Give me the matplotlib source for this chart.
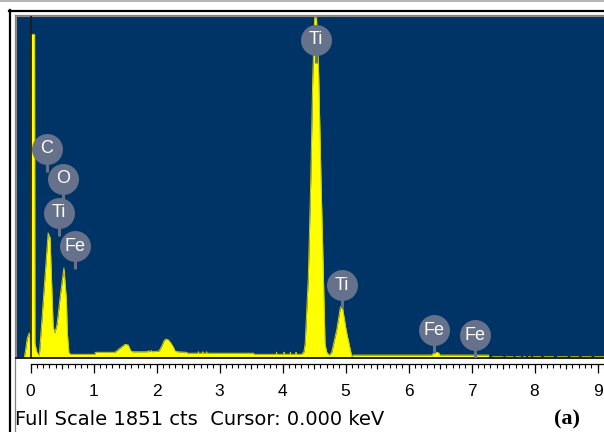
import numpy as np
import matplotlib
matplotlib.use('Agg')
import matplotlib.pyplot as plt

# spectrum (keV, counts)
energy = [-0.23, -0.10, -0.08, -0.05, -0.02, 0.00, 0.01, 0.065, 0.07, 0.10, 0.14,
          0.28, 0.31, 0.36, 0.385, 0.42, 0.47, 0.53, 0.57, 0.585, 0.61, 0.64,
          1.02, 1.03, 1.34, 1.42, 1.50, 1.55, 1.59, 1.62, 1.86, 1.87, 1.88, 1.92, 1.93,
          2.04, 2.08, 2.12, 2.15, 2.19, 2.23, 2.27, 2.29, 2.33, 2.48, 2.49,
          2.66, 2.665, 2.67, 2.73, 2.735, 2.74, 2.79, 2.795, 2.80, 3.54, 3.55,
          3.90, 3.905, 3.91, 4.02, 4.025, 4.03, 4.12, 4.125, 4.13, 4.21, 4.215, 4.22,
          4.30, 4.34, 4.36, 4.41, 4.45, 4.48, 4.51, 4.54, 4.575, 4.61, 4.65, 4.675, 4.70,
          4.74, 4.78, 4.86, 4.92, 4.95, 5.01, 5.10, 5.12,
          6.37, 6.40, 6.44, 6.48, 6.50, 7.27, 7.28,
          7.33, 7.335, 7.50, 7.505, 7.54, 7.545, 7.66, 7.665, 7.70, 7.705, 7.78, 7.785,
          7.82, 7.825, 7.86, 7.865, 7.90, 7.905, 7.94, 7.945, 7.98, 7.985, 8.10, 8.105,
          8.15, 8.155, 8.30, 8.305, 8.36, 8.365, 8.52, 8.525, 8.57, 8.575, 8.70, 8.705,
          8.75, 8.755, 8.90, 8.905, 8.95, 8.955, 9.11]
counts = [0, 0, 40, 110, 136, 70, 1760, 1760, 80, 33, 12,
          680, 655, 170, 136, 180, 330, 490, 316, 136, 27, 20,
          20, 31, 31, 53, 74, 71, 40, 34, 34, 40, 34, 40, 34,
          38, 62, 94, 103, 98, 80, 58, 40, 34, 31, 26,
          26, 34, 26, 26, 34, 26, 26, 34, 26, 26, 20,
          20, 31, 20, 20, 31, 20, 20, 31, 20, 20, 31, 20,
          20, 33, 80, 442, 986, 1530, 1851, 1851, 1530, 986, 442, 80, 33,
          15, 30, 152, 279, 279, 152, 7, 16,
          16, 28, 31, 28, 16, 16, 0,
          0, 7, 7, 0, 0, 7, 7, 0, 0, 7, 7, 0,
          0, 7, 7, 0, 0, 7, 7, 0, 0, 7, 7, 0,
          0, 7, 7, 0, 0, 7, 7, 0, 0, 7, 7, 0,
          0, 7, 7, 0, 0, 7, 7]

# peak markers
label_text = ['C', 'O', 'Ti', 'Fe', 'Ti', 'Ti', 'Fe', 'Fe']
label_kev = [0.26, 0.516, 0.452, 0.706, 4.532, 4.937, 6.405, 7.063]
label_cts = [1137, 974, 789, 609, 1730, 397, 152, 125]

ticks = list(range(10))
full_scale = 1851

W, H = 604, 432
blue = '#003366'
yellow = '#ffff00'
bubble = '#66718b'


def frac(x0, y0, x1, y1):
    return [x0 / W, 1 - y1 / H, (x1 - x0) / W, (y1 - y0) / H]


fig = plt.figure(figsize=(6.04, 4.32), dpi=100)
fig.patch.set_facecolor('white')

# frame / text layer in pixel coordinates
bg = fig.add_axes([0, 0, 1, 1])
bg.set_xlim(0, W)
bg.set_ylim(H, 0)
bg.axis('off')
bg.plot([0, W], [0.5, 0.5], color='#a8a8a8', lw=1.2)
bg.plot([9, W], [11, 11], color='black', lw=1.6)
bg.plot([10, 10], [10, H], color='black', lw=1.6)
bg.plot([14.5, W], [14.5, 14.5], color='#808080', lw=0.9)
bg.plot([14.5, 14.5], [14.5, H], color='#808080', lw=0.9)

xlo = (16 - 30.5) / 63
xhi = (604 - 30.5) / 63

ax = fig.add_axes(frac(16, 16, 604, 358))
ax.set_facecolor(blue)
ax.set_xlim(xlo, xhi)
ax.set_ylim(0, 1860)
ax.fill_between(energy, counts, 0, color=yellow, lw=0, zorder=2)
ax.plot(energy, counts, color='#caca10', lw=0.7, zorder=2)
ax.axvline(0, color='#1c1c1c', lw=1.2, zorder=3)

ax.vlines(label_kev, np.array(label_cts) - 125, label_cts, color=bubble, lw=2.2, zorder=4)
ax.scatter(label_kev, label_cts, s=497, color=bubble, linewidths=0, zorder=5)
for t, k, c in zip(label_text, label_kev, label_cts):
    ax.text(k, c, t, color='white', ha='center', va='center', fontsize=13,
            family='Liberation Sans', zorder=6)

ax.set_xticks([])
ax.set_yticks([])
ax.spines['right'].set_visible(False)
ax.spines['top'].set_color('#8a8a8a')
ax.spines['left'].set_color('#8a8a8a')
ax.spines['bottom'].set_color('#202020')
ax.spines['bottom'].set_linewidth(1.4)

# energy ruler under the plot
rx = fig.add_axes(frac(16, 358, 604, 432))
rx.set_xlim(xlo, xhi)
rx.set_ylim(74, 0)
rx.axis('off')
rx.plot([0, xhi], [5.5, 5.5], color='black', lw=0.9)
minor = np.arange(0, 9.15, 0.1)
rx.vlines(minor, 5.5, 9.5, color='black', lw=0.8)
rx.vlines(np.arange(0.5, 9.15, 1.0), 5.5, 11, color='black', lw=0.8)
rx.vlines(ticks, 5.5, 15, color='black', lw=0.9)
for k in ticks:
    rx.text(k, 38.5, str(k), ha='center', va='baseline', fontsize=12.5,
            family='Liberation Sans')

bg.text(15, 425, f'Full Scale {full_scale} cts  Cursor: 0.000 keV', va='baseline',
        fontsize=14, family='DejaVu Sans')
bg.text(567, 424, '(a)', ha='center', va='baseline', fontsize=16,
        family='Liberation Serif', weight='bold')

fig.savefig('out.png', dpi=100)
